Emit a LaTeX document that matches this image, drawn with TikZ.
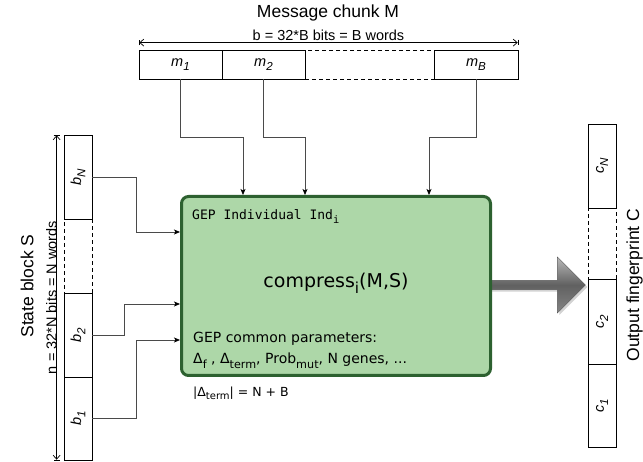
\documentclass[tikz,border=0pt]{standalone}
\usepackage{fontspec}
\setmainfont{Liberation Sans}
\setmonofont{DejaVu Sans Mono}
\newfontfamily\boxfont{DejaVu Sans}
\usepackage{graphicx}
\usepackage{tikz}
\usetikzlibrary{positioning, calc, arrows.meta, shapes.arrows, shadows}
\definecolor{indfill}{HTML}{ADD7A8}
\definecolor{indline}{HTML}{2D6130}
\definecolor{wirec}{HTML}{4A4A4A}
\newcommand{\lo}[1]{\raisebox{-.55ex}{\scalebox{.8}{#1}}}

\tikzset{
  cell/.style={draw, line width=.8pt, inner sep=0pt, font=\fontsize{14.5}{16}\selectfont\itshape},
  hcell/.style={cell, minimum height=29pt},
  vcell/.style={cell, minimum width=28pt},
  gap/.style={dash pattern=on 4pt off 3pt},
  wire/.style={draw=wirec, line width=.7pt, -{Stealth[length=6pt, width=5pt, inset=1.5pt, color=black]}},
  dim/.style={line width=.7pt, >={Straight Barb[length=4pt, width=7pt]}, |<->|},
  dimtext/.style={font=\fontsize{14.5}{16}\selectfont, inner sep=0pt},
  title/.style={font=\fontsize{17.5}{20}\selectfont, inner sep=0pt},
  indbox/.style={draw=indline, fill=indfill, line width=3pt, rounded corners=7pt},
  bigarrow/.style={single arrow, single arrow head extend=18pt, draw=black!65, line width=.4pt,
    top color=gray!55, bottom color=black!48, middle color=black!62,
    drop shadow={opacity=.35, shadow xshift=2pt, shadow yshift=-2pt}},
}

\begin{document}
\begin{tikzpicture}[x=1pt, y=-1pt]
  \useasboundingbox (0,0) rectangle (643,462);

  % message chunk
  \node[title, anchor=base] (mtitle) at (328,18) {Message chunk M};
  \node[hcell, minimum width=83pt] (m1) at (180.5,64.5) {m\lo{1}};
  \node[hcell, minimum width=83pt] (m2) at (263.5,64.5) {m\lo{2}};
  \node[hcell, gap, minimum width=129pt] (mgap) at (369.5,64.5) {};
  \node[hcell, minimum width=84pt] (mB) at (476,64.5) {m\lo{B}};
  \draw[dim] ($(m1.north west)+(0,-7)$) -- ($(mB.north east)+(0,-7)$)
    node[dimtext, midway, anchor=base, yshift=2pt] (bdim) {b = 32*B bits = B words};

  % state block
  \node[title, rotate=90] (stitle) at (27,286) {State block S};
  \node[vcell, minimum height=84pt] (bN) at (78,177) {\rotatebox{90}{b\lo{N}}};
  \node[vcell, gap, minimum height=74pt] (bgap) at (78,256) {};
  \node[vcell, minimum height=84pt] (b2) at (78,335) {\rotatebox{90}{b\lo{2}}};
  \node[vcell, minimum height=83pt] (b1) at (78,418.5) {\rotatebox{90}{b\lo{1}}};
  \draw[dim] ($(bN.north west)+(-7,0)$) -- ($(b1.south west)+(-7,0)$)
    node[dimtext, midway, rotate=90, anchor=base] (ndim) {n = 32*N bits = N words};

  % output fingerprint
  \node[vcell, minimum height=84pt] (cN) at (602,166) {\rotatebox{90}{c\lo{N}}};
  \node[vcell, gap, minimum height=71pt] (cgap) at (602,243.5) {};
  \node[vcell, minimum height=85pt] (c2) at (602,321.5) {\rotatebox{90}{c\lo{2}}};
  \node[vcell, minimum height=83pt] (c1) at (602,405.5) {\rotatebox{90}{c\lo{1}}};
  \node[title, rotate=90, anchor=base] (ctitle) at (639,285) {Output fingerprint C};

  % GEP individual
  \node[bigarrow, minimum height=96pt, minimum width=56pt] (out) at (535,285) {};
  \node[indbox, minimum width=309pt, minimum height=179pt] (ind) at (336,286) {};
  \node[anchor=base west, inner sep=0pt, font=\ttfamily\fontsize{13}{15}\selectfont] (indname) at (192,220) {GEP Individual Ind\lo{i}};
  \node[anchor=base, inner sep=0pt, font=\boxfont\fontsize{19}{22}\selectfont] (cmp) at (336,288) {compress\lo{i}(M,S)};
  \node[anchor=base west, inner sep=0pt, font=\boxfont\fontsize{14}{16}\selectfont] (par1) at (193,343) {GEP common parameters:};
  \node[anchor=base west, inner sep=0pt, font=\boxfont\fontsize{14}{16}\selectfont] (par2) at (193,364) {Δ\lo{f} , Δ\lo{term}, Prob\lo{mut}, N genes, ...};
  \node[anchor=base west, inner sep=0pt, font=\boxfont\fontsize{12.5}{14}\selectfont] (nterm) at (193,396) {|Δ\lo{term}| = N + B};

  % inputs
  \draw[wire] (m1.south) -- ++(0,58) -| ($(ind.north west)+(63,0)$);
  \draw[wire] (m2.south) -- ++(0,58) -| ($(ind.north west)+(125,0)$);
  \draw[wire] (mB.south) -- ++(0,58) -| ($(ind.north west)+(249,0)$);
  \draw[wire] (bN.east) -- ++(44,0) |- ($(ind.north west)+(0,37)$);
  \draw[wire] (b2.east) -- ++(32,0) |- ($(ind.north west)+(0,109)$);
  \draw[wire] (b1.east) -- ++(44,0) |- ($(ind.north west)+(0,145)$);
\end{tikzpicture}
\end{document}
